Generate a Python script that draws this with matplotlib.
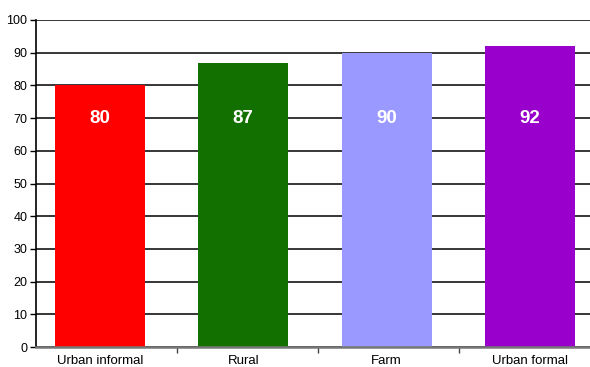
import matplotlib
matplotlib.use("Agg")
import matplotlib.pyplot as plt
from matplotlib import font_manager

areas = ["Urban informal", "Rural", "Farm", "Urban formal"]
shares = [80, 87, 90, 92]
bar_colors = ["#ff0000", "#117000", "#9999ff", "#9900cc"]
y_ticks = list(range(0, 101, 10))

names = {f.name for f in font_manager.fontManager.ttflist}
narrow = "Liberation Sans Narrow" if "Liberation Sans Narrow" in names else "Liberation Sans"
plt.rcParams["font.family"] = [narrow, "DejaVu Sans"]

fig = plt.figure(figsize=(5.9, 3.67), dpi=100)
ax = fig.add_axes([35.7 / 590, 20 / 367, 1 - 35.7 / 590, 327 / 367])

pos = list(range(len(areas)))
ax.bar(pos, shares, width=0.628, color=bar_colors, zorder=3)

# value labels sit at a common height inside the bars
for x, v in zip(pos, shares):
    ax.text(x, 70, f"{v}", ha="center", va="center", color="white",
            fontsize=13.5, fontweight="bold", zorder=4)

ax.set_ylim(0, 100)
ax.set_xlim(-0.449, 3.42)
ax.set_yticks(y_ticks)
ax.tick_params(axis="y", labelsize=9, length=4, width=1, pad=2, colors="black")
ax.yaxis.grid(True, color="black", linewidth=1.1, zorder=0)
ax.set_axisbelow(True)

ax.set_xticks(pos)
ax.set_xticklabels(areas, fontsize=9.5)
ax.tick_params(axis="x", length=0, pad=6)
ax.set_xticks([0.537, 1.521, 2.505], minor=True)
ax.tick_params(axis="x", which="minor", length=4, width=1, color="#444444")

for side in ["top", "right"]:
    ax.spines[side].set_visible(False)
ax.spines["left"].set_color("black")
ax.spines["left"].set_linewidth(1.2)
ax.spines["bottom"].set_color("#777777")
ax.spines["bottom"].set_linewidth(1.8)
ax.spines["bottom"].set_zorder(5)

fig.savefig("out.png", dpi=100)
